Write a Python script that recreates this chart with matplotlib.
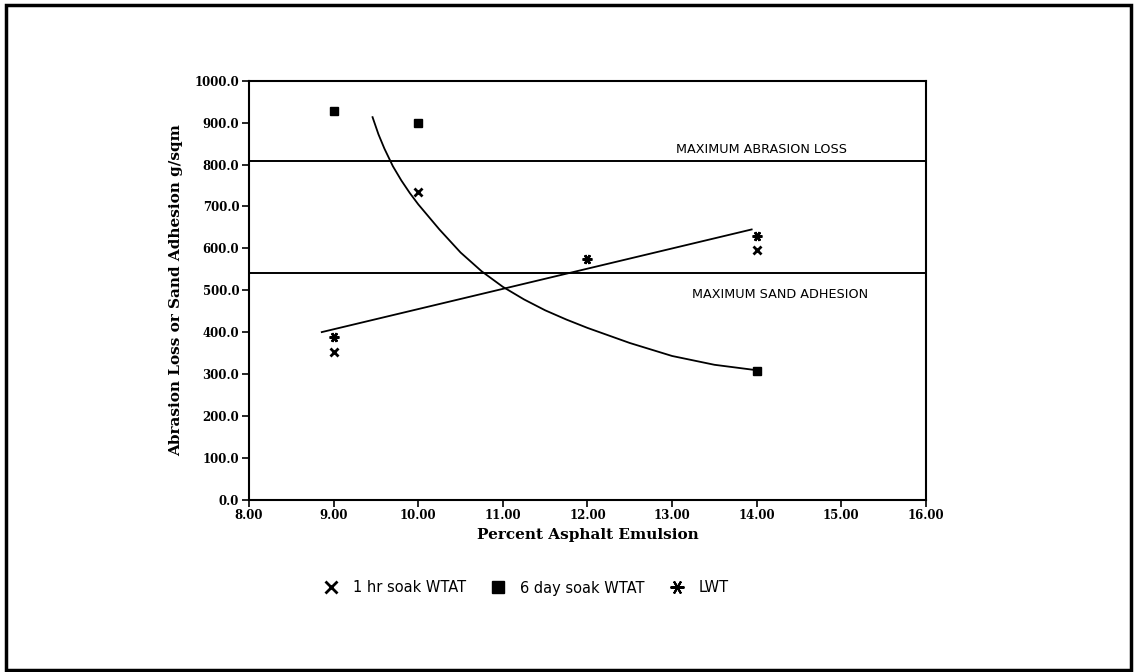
import numpy as np
import matplotlib
matplotlib.use('Agg')
import matplotlib.pyplot as plt
from matplotlib.patches import Rectangle
from matplotlib.lines import Line2D

# data
x_1hr = [9, 10, 14]
y_1hr = [353, 735, 596]
x_6day = [9, 10, 14]
y_6day = [928, 898, 308]
x_lwt = [9, 12, 14]
y_lwt = [388, 574, 630]

# trend lines as drawn
lin_x = [8.86, 13.94]
lin_y = [400, 645]
curve_x = [9.46, 9.53, 9.6, 9.7, 9.8, 9.9, 10.0, 10.25, 10.5, 10.75, 11.0, 11.25, 11.5,
           11.75, 12.0, 12.5, 13.0, 13.5, 14.0]
curve_y = [913, 872, 838, 796, 762, 732, 705, 645, 590, 545, 508, 478, 452,
           430, 410, 374, 343, 322, 309]

max_abrasion = 809
max_sand = 540

xticks = [8, 9, 10, 11, 12, 13, 14, 15, 16]
yticks = [0, 100, 200, 300, 400, 500, 600, 700, 800, 900, 1000]

serif = 'DejaVu Serif'
sans = 'DejaVu Sans'

fig = plt.figure(figsize=(11.38, 6.72), dpi=100)
ax = fig.add_axes([0.2188, 0.2564, 0.5949, 0.6235])

ax.axhline(max_abrasion, color='black', lw=1.4)
ax.axhline(max_sand, color='black', lw=1.4)
ax.plot(lin_x, lin_y, color='black', lw=1.3)
ax.plot(curve_x, curve_y, color='black', lw=1.3)

ax.plot(x_1hr, y_1hr, ls='none', marker='x', ms=6, mew=2, color='black')
ax.plot(x_6day, y_6day, ls='none', marker='s', ms=6, color='black')
ax.plot(x_lwt, y_lwt, ls='none', marker=(6, 2, 90), ms=7, mew=1.8, color='black')

ax.text(13.04, 835, 'MAXIMUM ABRASION LOSS', family=sans, fontsize=9.2, va='center', ha='left')
ax.text(13.24, 489, 'MAXIMUM SAND ADHESION', family=sans, fontsize=9.2, va='center', ha='left')

ax.set_xlim(8, 16)
ax.set_ylim(0, 1000)
ax.set_xticks(xticks)
ax.set_xticklabels(['%.2f' % v for v in xticks], family=serif, fontweight='bold', fontsize=8.5)
ax.set_yticks(yticks)
ax.set_yticklabels(['%.1f' % v for v in yticks], family=serif, fontweight='bold', fontsize=8.5)
ax.tick_params(direction='out', length=5, width=1.2, pad=2)
for s in ax.spines.values():
    s.set_linewidth(1.5)

ax.set_xlabel('Percent Asphalt Emulsion', family=serif, fontweight='bold', fontsize=11, labelpad=4)
ax.set_ylabel('Abrasion Loss or Sand Adhesion g/sqm', family=serif, fontweight='bold',
              fontsize=11, labelpad=8)

handles = [
    Line2D([], [], ls='none', marker='x', ms=9, mew=2, color='black'),
    Line2D([], [], ls='none', marker='s', ms=8, color='black'),
    Line2D([], [], ls='none', marker=(6, 2, 90), ms=10, mew=1.5, color='black'),
]
labels = ['1 hr soak WTAT', '6 day soak WTAT', 'LWT']
fig.legend(handles, labels, loc='center', bbox_to_anchor=(0.462, 0.125), ncol=3,
           frameon=False, prop={'family': sans, 'size': 10.5}, handletextpad=0.9,
           columnspacing=1.6, handlelength=1.2)

fig.patches.append(Rectangle((0.005, 0.003), 0.989, 0.99, transform=fig.transFigure,
                             fill=False, lw=2.5, edgecolor='black'))

fig.savefig('out.png', dpi=100)
